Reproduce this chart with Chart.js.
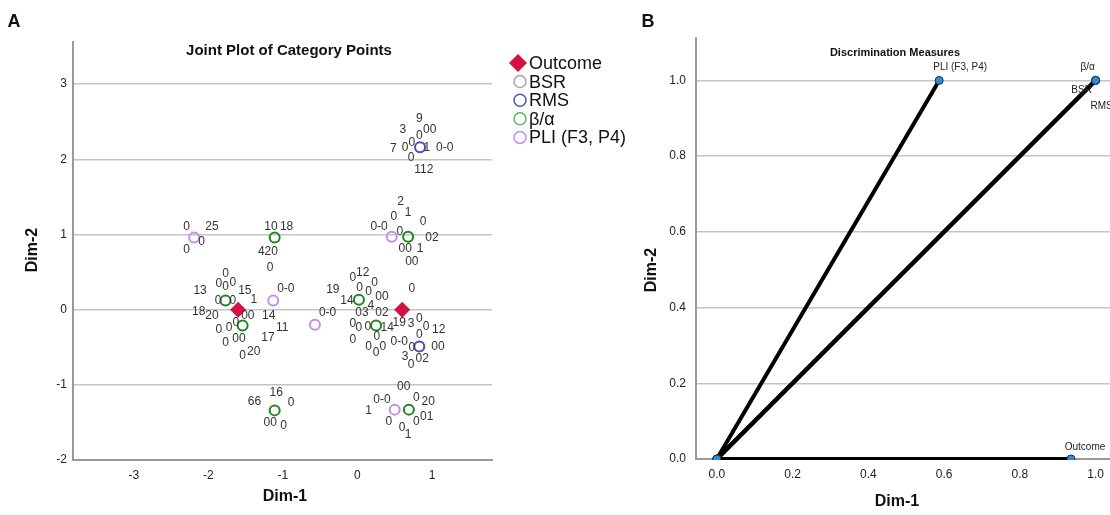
<!DOCTYPE html>
<html>
<head>
<meta charset="utf-8">
<script src="https://cdn.jsdelivr.net/npm/chart.js@4.4.1/dist/chart.umd.min.js"></script>
<style>
  html, body { margin: 0; padding: 0; background: #fff; }
  #wrap { position: relative; width: 1110px; height: 515px; overflow: hidden; }
  #boxA { position: absolute; left: 0; top: 0; }
  #boxB { position: absolute; left: 640px; top: 0; }
</style>
</head>
<body>
<div id="wrap">
  <div id="boxA"><canvas id="jointChart" width="640" height="515"></canvas></div>
  <div id="boxB"><canvas id="discChart" width="470" height="515"></canvas></div>
</div>
<script>
const FONT = '"Liberation Sans", Arial, sans-serif';

// ---- Panel A: joint plot of category points ----
const jointTicksDim1 = [-3, -2, -1, 0, 1];
const jointTicksDim2 = [-2, -1, 0, 1, 2, 3];

const outcomeDim1 = [-1.60, 0.60];
const outcomeDim2 = [0.00, 0.00];
const bsrDim1 = [];
const bsrDim2 = [];
const rmsDim1 = [0.84, 0.83];
const rmsDim2 = [2.16, -0.49];
const betaDim1 = [-1.11, -1.77, -1.54, 0.02, 0.25, 0.68, 0.69, -1.11];
const betaDim2 = [0.96, 0.12, -0.21, 0.13, -0.21, 0.97, -1.33, -1.34];
const pliDim1 = [-2.19, -1.13, -0.57, 0.46, 0.50];
const pliDim2 = [0.96, 0.12, -0.20, 0.97, -1.33];

// category labels printed next to the points
const catLabelText = [
    '9', '3', '0', '00', '7', '0', '0', '1', '0-0', '0', '112',
    '2', '1', '0', '0', '0-0', '0', '02', '0', '25', '0', '10', '18',
    '0', '420', '00', '1', '00', '0', '0', '0', '0', '0', '15', '13',
    '0', '0', '1', '0-0', '19', '0', '12', '0', '0', '0', '00', '14', '0',
    '18', '20', '00', '14', '0-0', '03', '4', '02',
    '0', '0', '0', '11', '0', '0', '0', '14', '19', '3', '0', '0', '12',
    '0', '00', '17', '0', '0', '0-0', '0', '0', '0', '0', '00', '0',
    '0', '20', '3', '0', '02', '00', '16', '66', '0', '0-0', '0', '20',
    '1', '0', '0', '01', '0', '1', '00', '0'
];
const catLabelDim1 = [
    0.83, 0.61, 0.83, 0.97, 0.48, 0.64, 0.73, 0.93, 1.17, 0.72, 0.89,
    0.58, 0.68, 0.49, 0.88, 0.29, 0.57, 1.00, -2.29, -1.95, -2.09, -1.16, -0.95,
    -2.29, -1.20, 0.64, 0.84, 0.73, -1.17, -1.77, -1.86, -1.77, -1.67, -1.51, -2.11,
    -1.87, -1.67, -1.39, -0.96, -0.33, -0.06, 0.07, 0.03, 0.15, 0.23, 0.33, -0.14, 0.73,
    -2.13, -1.95, -1.47, -1.19, -0.40, 0.06, 0.18, 0.33,
    -1.86, -1.72, -1.63, -1.01, -0.06, 0.02, 0.14, 0.40, 0.56, 0.72, 0.83, 0.92, 1.09,
    -1.77, -1.59, -1.20, -0.06, 0.26, 0.56, 0.73, 0.15, 0.25, 0.34, 1.08, 0.83,
    -1.54, -1.39, 0.64, 0.72, 0.87, 0.62, -1.09, -1.38, -0.89, 0.33, 0.79, 0.95,
    0.15, 0.42, 0.79, 0.93, 0.60, 0.68, -1.17, -0.99
];
const catLabelDim2 = [
    2.54, 2.40, 2.31, 2.40, 2.14, 2.15, 2.22, 2.16, 2.16, 2.02, 1.86,
    1.43, 1.29, 1.24, 1.17, 1.10, 1.04, 0.96, 1.10, 1.10, 0.90, 1.10, 1.10,
    0.80, 0.77, 0.81, 0.81, 0.64, 0.56, 0.48, 0.35, 0.31, 0.36, 0.25, 0.25,
    0.12, 0.12, 0.13, 0.28, 0.27, 0.42, 0.49, 0.29, 0.24, 0.36, 0.17, 0.12, 0.28,
    -0.03, -0.08, -0.08, -0.08, -0.04, -0.04, 0.05, -0.04,
    -0.27, -0.24, -0.17, -0.24, -0.19, -0.24, -0.23, -0.24, -0.17, -0.19, -0.12, -0.23, -0.27,
    -0.44, -0.39, -0.37, -0.40, -0.36, -0.42, -0.50, -0.49, -0.57, -0.49, -0.49, -0.33,
    -0.61, -0.56, -0.62, -0.73, -0.65, -1.02, -1.10, -1.22, -1.24, -1.20, -1.17, -1.22,
    -1.35, -1.49, -1.49, -1.42, -1.57, -1.66, -1.50, -1.55
];

// ---- Panel B: discrimination measures ----
const discTicksDim1 = [0, 0.2, 0.4, 0.6, 0.8, 1.0];
const discTicksDim2 = [0, 0.2, 0.4, 0.6, 0.8, 1.0];
const measureNames = ['Outcome', 'BSR', 'RMS', 'β/α', 'PLI (F3, P4)'];
const measureDim1 = [0.935, 1.0, 1.0, 1.0, 0.587];
const measureDim2 = [0.0, 1.0, 1.0, 1.0, 1.0];

const toPoints = (xs, ys) => xs.map((v, i) => ({ x: v, y: ys[i] }));
const fixedTicks = (values) => (scale) => { scale.ticks = values.map(v => ({ value: v })); };

const jointDecor = {
    id: 'jointDecor',
    afterDatasetsDraw(chart) {
        const { ctx, scales: { x, y } } = chart;
        ctx.save();
        ctx.textAlign = 'center';
        ctx.textBaseline = 'middle';

        ctx.fillStyle = '#333';
        ctx.font = '12px ' + FONT;
        catLabelText.forEach((t, i) => {
            ctx.fillText(t, x.getPixelForValue(catLabelDim1[i]), y.getPixelForValue(catLabelDim2[i]));
        });

        ctx.fillStyle = '#111';
        ctx.font = 'bold 15px ' + FONT;
        ctx.fillText('Joint Plot of Category Points', 289, 51);

        ctx.font = 'bold 16px ' + FONT;
        ctx.fillText('Dim-1', 285, 497);
        ctx.save();
        ctx.translate(33, 250);
        ctx.rotate(-Math.PI / 2);
        ctx.fillText('Dim-2', 0, 0);
        ctx.restore();

        ctx.font = 'bold 18px ' + FONT;
        ctx.fillText('A', 14, 22);

        // legend
        ctx.textAlign = 'left';
        ctx.font = '18px ' + FONT;
        chart.data.datasets.forEach((ds, i) => {
            const ly = 63 + i * 18.6;
            const lx = 520;
            if (ds.pointStyle === 'rectRot') {
                ctx.fillStyle = ds.backgroundColor;
                ctx.beginPath();
                ctx.moveTo(lx - 2, ly - 9);
                ctx.lineTo(lx + 7, ly);
                ctx.lineTo(lx - 2, ly + 9);
                ctx.lineTo(lx - 11, ly);
                ctx.closePath();
                ctx.fill();
            } else {
                ctx.strokeStyle = ds.legendColor;
                ctx.lineWidth = 1.5;
                ctx.beginPath();
                ctx.arc(lx, ly, 6, 0, Math.PI * 2);
                ctx.stroke();
            }
            ctx.fillStyle = '#111';
            ctx.fillText(ds.label, lx + 9, ly + 1);
        });
        ctx.restore();
    }
};

const circleSet = (label, xs, ys, color, legendColor) => ({
    label,
    data: toPoints(xs, ys),
    pointStyle: 'circle',
    pointRadius: 5,
    borderWidth: 2,
    borderColor: color,
    backgroundColor: 'rgba(255,255,255,0)',
    legendColor
});

new Chart(document.getElementById('jointChart'), {
    type: 'scatter',
    data: {
        datasets: [
            {
                label: 'Outcome',
                data: toPoints(outcomeDim1, outcomeDim2),
                pointStyle: 'rectRot',
                pointRadius: 8,
                borderWidth: 0,
                backgroundColor: '#d5113f',
                borderColor: '#d5113f'
            },
            circleSet('BSR', bsrDim1, bsrDim2, '#9a9a9a', '#a5a5a5'),
            circleSet('RMS', rmsDim1, rmsDim2, '#5a44b8', '#4b5ea6'),
            circleSet('β/α', betaDim1, betaDim2, '#1d851d', '#5bb35b'),
            circleSet('PLI (F3, P4)', pliDim1, pliDim2, '#c58cf0', '#c28af0')
        ]
    },
    options: {
        responsive: false,
        animation: false,
        layout: { autoPadding: false, padding: { left: 20, top: 42, right: 148, bottom: 10 } },
        plugins: { legend: { display: false }, tooltip: { enabled: false } },
        scales: {
            x: {
                type: 'linear',
                bounds: 'data',
                min: -3.815,
                max: 1.805,
                grid: { display: false, drawTicks: false },
                border: { color: '#9a9a9a', width: 2 },
                ticks: { padding: 8, color: '#222', font: { family: FONT, size: 12 } },
                afterBuildTicks: fixedTicks(jointTicksDim1),
                afterFit: (s) => { s.height = 45; s.paddingLeft = 0; s.paddingRight = 0; }
            },
            y: {
                type: 'linear',
                bounds: 'data',
                min: -2,
                max: 3.56,
                grid: { color: '#c4c4c4', lineWidth: 1.5, drawTicks: false },
                border: { color: '#9a9a9a', width: 2 },
                ticks: { padding: 6, color: '#222', font: { family: FONT, size: 12 } },
                afterBuildTicks: fixedTicks(jointTicksDim2),
                afterFit: (s) => { s.width = 53; }
            }
        }
    },
    plugins: [jointDecor]
});

// label offsets (px) for panel B point names
const measureLabelOffset = [[14, -12], [-14, 10], [6, 26], [-8, -13], [21, -13]];

const discDecor = {
    id: 'discDecor',
    afterDatasetsDraw(chart) {
        const { ctx, scales: { x, y } } = chart;
        ctx.save();
        ctx.textAlign = 'center';
        ctx.textBaseline = 'middle';
        ctx.fillStyle = '#222';
        ctx.font = '10px ' + FONT;
        measureNames.forEach((name, i) => {
            const [dx, dy] = measureLabelOffset[i];
            ctx.fillText(name, x.getPixelForValue(measureDim1[i]) + dx, y.getPixelForValue(measureDim2[i]) + dy);
        });

        ctx.fillStyle = '#111';
        ctx.font = 'bold 11px ' + FONT;
        ctx.fillText('Discrimination Measures', 255, 53);

        ctx.font = 'bold 16px ' + FONT;
        ctx.fillText('Dim-1', 257, 502);
        ctx.save();
        ctx.translate(12, 270);
        ctx.rotate(-Math.PI / 2);
        ctx.fillText('Dim-2', 0, 0);
        ctx.restore();

        ctx.font = 'bold 18px ' + FONT;
        ctx.fillText('B', 8, 22);
        ctx.restore();
    }
};

new Chart(document.getElementById('discChart'), {
    type: 'scatter',
    data: {
        datasets: measureNames.map((name, i) => ({
            label: name,
            data: [{ x: 0, y: 0 }, { x: measureDim1[i], y: measureDim2[i] }],
            showLine: true,
            borderColor: '#000',
            borderWidth: 4,
            pointRadius: 4,
            pointBackgroundColor: '#2f8bd3',
            pointBorderColor: '#1b3550',
            pointBorderWidth: 1,
            clip: { left: 6, top: 6, right: 6, bottom: 1 }
        }))
    },
    options: {
        responsive: false,
        animation: false,
        layout: { autoPadding: false, padding: { left: 16, top: 38, right: 0, bottom: 11 } },
        plugins: { legend: { display: false }, tooltip: { enabled: false } },
        scales: {
            x: {
                type: 'linear',
                bounds: 'data',
                min: -0.055,
                max: 1.038,
                grid: { display: false, drawTicks: false },
                border: { color: '#9a9a9a', width: 2 },
                ticks: { padding: 8, color: '#222', font: { family: FONT, size: 12 },
                    callback: (v) => v.toFixed(1) },
                afterBuildTicks: fixedTicks(discTicksDim1),
                afterFit: (s) => { s.height = 45; s.paddingLeft = 0; s.paddingRight = 0; }
            },
            y: {
                type: 'linear',
                bounds: 'data',
                min: 0,
                max: 1.112,
                grid: { color: '#c4c4c4', lineWidth: 1.5, drawTicks: false },
                border: { color: '#9a9a9a', width: 2 },
                ticks: { padding: 10, color: '#222', font: { family: FONT, size: 12 },
                    callback: (v) => v.toFixed(1) },
                afterBuildTicks: fixedTicks(discTicksDim2),
                afterFit: (s) => { s.width = 40; }
            }
        }
    },
    plugins: [discDecor]
});
</script>
</body>
</html>
